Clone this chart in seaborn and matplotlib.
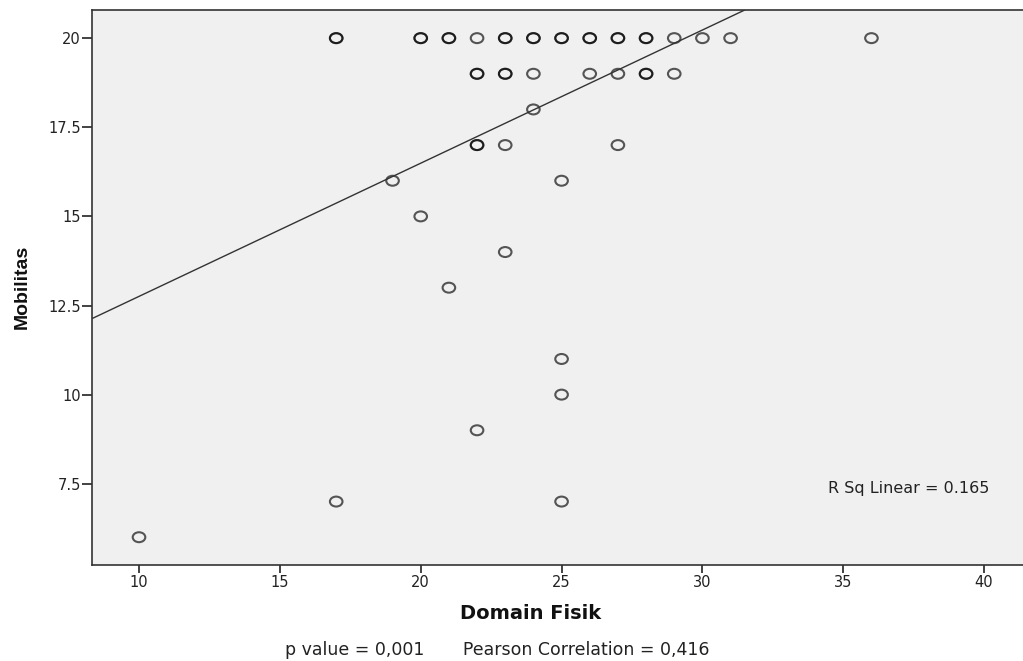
import matplotlib
matplotlib.use("Agg")
import matplotlib.pyplot as plt
import seaborn as sns
import pandas as pd
from matplotlib.path import Path
from matplotlib.transforms import Affine2D
from matplotlib.ticker import FuncFormatter

# data (repeated points = overlapping cases)
domain_fisik = [17, 17, 20, 20, 21, 21, 22, 23, 23, 24, 24, 25, 25, 26, 26, 27, 27, 28, 28, 29, 30, 31, 36,
                22, 22, 23, 23, 24, 26, 27, 28, 28, 29,
                24,
                22, 22, 23, 27,
                19, 25,
                20,
                23,
                21,
                25,
                25,
                22,
                17, 25,
                10]
mobilitas = [20] * 23 + [19] * 10 + [18] + [17] * 4 + [16] * 2 + [15] + [14] + [13] + [11] + [10] + [9] + [7] * 2 + [6]

# fit line as reported
intercept = 9.02
slope = 0.3736
r_sq_text = "R Sq Linear = 0.165"
footer_text = "p value = 0,001       Pearson Correlation = 0,416"

x_ticks = [10, 15, 20, 25, 30, 35, 40]
y_ticks = [7.5, 10, 12.5, 15, 17.5, 20]

df = pd.DataFrame({"Domain Fisik": domain_fisik, "Mobilitas": mobilitas})

sns.set_style("ticks")
plt.rcParams["font.family"] = ["DejaVu Sans"]

# the original export is a bit squashed vertically, so circles are flat
flat_circle = Path.unit_circle().transformed(Affine2D().scale(1.0, 0.79))

fig = plt.figure(figsize=(10.23, 6.61), dpi=100)
ax = fig.add_axes([0.0899, 0.1452, 0.9101, 0.8397])
ax.set_facecolor("#f0f0f0")

sns.scatterplot(data=df, x="Domain Fisik", y="Mobilitas", ax=ax, marker=flat_circle,
                facecolors="none", edgecolor=(0, 0, 0, 0.65), linewidth=1.5, s=82)

ax.axline((0, intercept), slope=slope, color="#333333", linewidth=1.0)

ax.set_xlim(8.33, 41.38)
ax.set_ylim(5.22, 20.79)
ax.set_xticks(x_ticks)
ax.set_yticks(y_ticks)
ax.yaxis.set_major_formatter(FuncFormatter(lambda v, p: f"{v:g}"))
ax.tick_params(axis="both", direction="out", width=1.2, color="#222222",
               labelsize=10.5, labelcolor="#222222")
ax.tick_params(axis="x", length=5.5, pad=2)
ax.tick_params(axis="y", length=7, pad=1)

for side in ["left", "bottom", "top"]:
    ax.spines[side].set_color("#333333")
    ax.spines[side].set_linewidth(1.2)
ax.spines["right"].set_visible(False)

ax.set_xlabel("Domain Fisik", fontsize=14, fontweight="bold", color="#111111")
ax.xaxis.set_label_coords(0.4716, -0.0703)
ax.set_ylabel("Mobilitas", fontsize=14, fontweight="bold", color="#111111",
              family=["Liberation Sans", "DejaVu Sans"])
ax.yaxis.set_label_coords(-0.0655, 0.5009)

ax.text(0.7906, 0.1387, r_sq_text, transform=ax.transAxes, fontsize=11.5,
        color="#222222", ha="left", va="center")

fig.text(0.4858, 0.0166, footer_text, fontsize=12.5, color="#222222",
         ha="center", va="center")

fig.savefig("out.png", dpi=100)
